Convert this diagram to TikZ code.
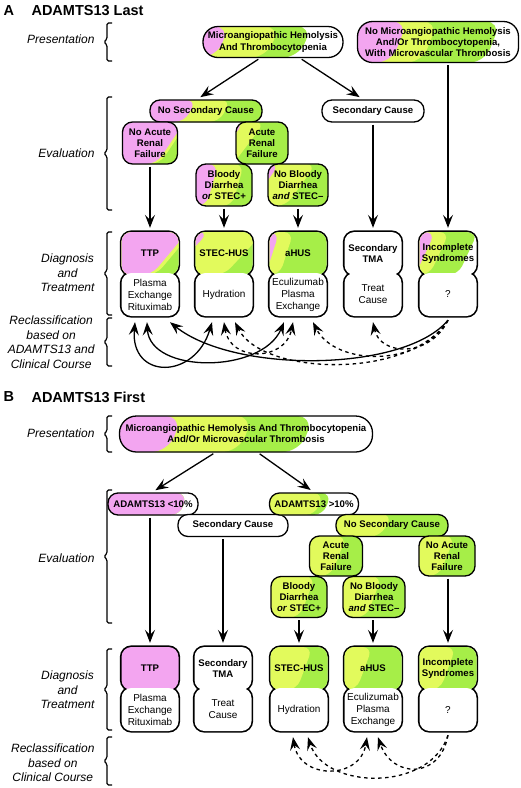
\documentclass[tikz,border=0pt]{standalone}
\usepackage{fontspec}
\setmainfont{Liberation Sans}
\usetikzlibrary{arrows.meta,calc,backgrounds}

\definecolor{tmapink}{RGB}{243,165,240}
\definecolor{tmayel}{RGB}{226,250,92}
\definecolor{tmagrn}{RGB}{166,238,72}

\tikzset{
  bands/.style n args={4}{path picture={
    \path (path picture bounding box.south west) coordinate (bsw)
          (path picture bounding box.north west) coordinate (bnw)
          (path picture bounding box.south east) coordinate (bse)
          (path picture bounding box.north east) coordinate (bne);
    \fill[tmagrn] ($(bsw)+(-80,0)$) -- ($(bsw)!#3!(bse)+(-#4,0)$) -- ($(bnw)!#3!(bne)+(#4,0)$) -- ($(bnw)+(-80,0)$) -- cycle;
    \fill[tmayel] ($(bsw)+(-80,0)$) -- ($(bsw)!#2!(bse)+(-#4,0)$) -- ($(bnw)!#2!(bne)+(#4,0)$) -- ($(bnw)+(-80,0)$) -- cycle;
    \fill[tmapink] ($(bsw)+(-80,0)$) -- ($(bsw)!#1!(bse)+(-#4,0)$) -- ($(bnw)!#1!(bne)+(#4,0)$) -- ($(bnw)+(-80,0)$) -- cycle;
  }},
  evbox/.style={draw, line width=1.3pt, fill=white, rounded corners=10pt, align=center, inner sep=1pt,
    font=\bfseries\fontsize{9.6}{11.2}\selectfont},
  dxtop/.style={fill=white, rounded corners=10pt, align=center, inner sep=1pt, minimum width=57pt,
    minimum height=43pt, font=\bfseries\fontsize{9.6}{11.2}\selectfont},
  dxbot/.style={dxtop, font=\fontsize{10}{12}\selectfont},
  outl/.style={line width=2.8pt, rounded corners=10pt},
  side/.style={anchor=east, align=center, font=\itshape\fontsize{12}{14.5}\selectfont},
  ttl/.style={anchor=west, font=\bfseries\fontsize{14.5}{16}\selectfont},
  brk/.style={line width=1.2pt, rounded corners=1.5pt},
  arr/.style={->, line width=1.3pt, shorten >=4pt, shorten <=2pt},
  recl/.style={line width=1.3pt},
  dsh/.style={recl, dash pattern=on 3.5pt off 3.5pt},
}

\begin{document}
\begin{tikzpicture}[x=1pt, y=-1pt, >={Stealth[length=13pt,width=10pt,inset=5pt]}]
  \useasboundingbox (0,0) rectangle (520,788);

  % panel A
  \node[ttl] (lblA) at (0,11) {A};
  \node[ttl] (ttlA) at (28,11) {ADAMTS13 Last};

  \node[side] (presA) at (98,39) {Presentation};
  \node[side] (evalA) at (98,153) {Evaluation};
  \node[side] (diagA) at (98,273) {Diagnosis\\and\\Treatment};
  \node[side] (reclA) at (98,342) {Reclassification\\based on\\ADAMTS13 and\\Clinical Course};

  \node[evbox, bands={0.14}{0.5}{0.73}{7}, rounded corners=15pt, minimum width=140pt, minimum height=31pt]
    (micA) at (273,42) {Microangiopathic Hemolysis\\And Thrombocytopenia};
  \node[evbox, bands={0.26}{0.45}{0.84}{8}, rounded corners=15pt, minimum width=161pt, minimum height=41pt]
    (noMicA) at (438,42) {No Microangiopathic Hemolysis\\And/Or Thrombocytopenia,\\With Microvascular Thrombosis};

  \node[evbox, bands={0.36}{0.67}{2}{6}, minimum width=112pt, minimum height=22pt] (nscA) at (206,111) {No Secondary Cause};
  \node[evbox, minimum width=102pt, minimum height=22pt] (scA) at (373,111) {Secondary Cause};
  \node[evbox, bands={0.87}{0.93}{2}{14}, minimum width=55pt, minimum height=42pt] (narfA) at (150,143) {No Acute\\Renal\\Failure};
  \node[evbox, bands={-0.15}{0.25}{2}{16}, minimum width=52pt, minimum height=42pt] (arfA) at (262,143) {Acute\\Renal\\Failure};
  \node[evbox, bands={0.29}{0.75}{2}{6}, minimum width=56pt, minimum height=42pt] (bdA) at (224,185) {Bloody\\Diarrhea\\\textit{or} STEC+};
  \node[evbox, bands={-0.06}{0.55}{2}{15}, minimum width=60pt, minimum height=42pt] (nbdA) at (298,185) {No Bloody\\Diarrhea\\\textit{and} STEC--};

  \node[dxtop, bands={0.84}{0.92}{2}{18}] (ttpA) at (150,253.5) {TTP};
  \node[dxbot] (ttpRxA) at (150,294.5) {Plasma\\Exchange\\Rituximab};
  \node[dxtop, bands={-0.12}{0.85}{2}{20}] (stecA) at (224,253.5) {STEC-HUS};
  \node[dxbot] (stecRxA) at (224,294.5) {Hydration};
  \node[dxtop, bands={0.05}{0.3}{2}{7}] (ahusA) at (298,253.5) {aHUS};
  \node[dxbot] (ahusRxA) at (298,294.5) {Eculizumab\\Plasma\\Exchange};
  \node[dxtop] (stmaA) at (373,253.5) {Secondary\\TMA};
  \node[dxbot] (stmaRxA) at (373,294.5) {Treat\\Cause};
  \node[dxtop, bands={0.1}{0.35}{0.85}{10}] (incA) at (448,253.5) {Incomplete\\Syndromes};
  \node[dxbot] (incRxA) at (448,294.5) {?};

  \draw[arr] ([xshift=-13pt]micA.south) -- ([xshift=-9pt]nscA.north);
  \draw[arr] ([xshift=27pt]micA.south) -- ([xshift=-10pt]scA.north);
  \draw[arr] (narfA) -- (ttpA);
  \draw[arr] (bdA) -- (stecA);
  \draw[arr] (nbdA) -- (ahusA);
  \draw[arr] (scA) -- (stmaA);
  \draw[arr] (noMicA.south -| incA.north) -- (incA.north);

  \draw[recl, <->] ($(ttpRxA.south)+(-15,6)$) .. controls (130,380) and (195,380) .. ($(stecRxA.south)+(-12,6)$);
  \draw[recl, <->] ($(ttpRxA.south)+(-3,6)$) .. controls (150,374) and (262,374) .. ($(ahusRxA.south)+(-14,6)$);
  \draw[recl, ->] ($(incRxA.south)+(0,4)$) .. controls (405,372) and (235,374) .. ($(ttpRxA.south)+(20,6)$);
  \draw[dsh, <->] ($(stecRxA.south)+(0,6)$) .. controls (230,362) and (285,362) .. ($(ahusRxA.south)+(-5,6)$);
  \draw[dsh, ->] ($(incRxA.south)+(0,4)$) .. controls (410,380) and (262,376) .. ($(stecRxA.south)+(11,6)$);
  \draw[dsh, ->] ($(incRxA.south)+(0,4)$) .. controls (420,368) and (335,366) .. ($(ahusRxA.south)+(15,6)$);
  \draw[dsh, ->] ($(incRxA.south)+(0,4)$) .. controls (430,358) and (380,356) .. ($(stmaRxA.south)+(0,6)$);

  % panel B
  \node[ttl] (lblB) at (0,397) {B};
  \node[ttl] (ttlB) at (28,397) {ADAMTS13 First};

  \node[side] (presB) at (98,433) {Presentation};
  \node[side] (evalB) at (98,558) {Evaluation};
  \node[side] (diagB) at (98,690) {Diagnosis\\and\\Treatment};
  \node[side] (reclB) at (98,763) {Reclassification\\based on\\Clinical Course};

  \node[evbox, bands={0.22}{0.5}{0.74}{7}, rounded corners=17pt, minimum width=253pt, minimum height=36pt]
    (micB) at (246,434) {Microangiopathic Hemolysis And Thrombocytopenia\\And/Or Microvascular Thrombosis};

  \node[evbox, bands={0.84}{0.84}{0.84}{3}, minimum width=90pt, minimum height=22pt] (lowB) at (153,504) {ADAMTS13 <10\%};
  \node[evbox, minimum width=110pt, minimum height=22pt] (scB) at (233,525.5) {Secondary Cause};
  \node[evbox, bands={-1}{0.56}{0.65}{4}, minimum width=89pt, minimum height=22pt] (highB) at (314,504) {ADAMTS13 >10\%};
  \node[evbox, bands={-1}{0.45}{2}{6}, minimum width=112pt, minimum height=22pt] (nscB) at (392,525.5) {No Secondary Cause};
  \node[evbox, bands={-1}{0.55}{2}{8}, minimum width=53pt, minimum height=40pt] (arfB) at (336,556) {Acute\\Renal\\Failure};
  \node[evbox, bands={-1}{0.5}{2}{8}, minimum width=56pt, minimum height=40pt] (narfB) at (447,556) {No Acute\\Renal\\Failure};
  \node[evbox, bands={-1}{0.65}{2}{8}, minimum width=56pt, minimum height=41pt] (bdB) at (299,597) {Bloody\\Diarrhea\\\textit{or} STEC+};
  \node[evbox, bands={-1}{0.5}{2}{8}, minimum width=62pt, minimum height=41pt] (nbdB) at (374,597) {No Bloody\\Diarrhea\\\textit{and} STEC--};

  \node[dxtop, fill=tmapink] (ttpB) at (150,668.5) {TTP};
  \node[dxbot] (ttpRxB) at (150,709.5) {Plasma\\Exchange\\Rituximab};
  \node[dxtop] (stmaB) at (223,668.5) {Secondary\\TMA};
  \node[dxbot] (stmaRxB) at (223,709.5) {Treat\\Cause};
  \node[dxtop, bands={-1}{0.6}{2}{8}] (stecB) at (299,668.5) {STEC-HUS};
  \node[dxbot] (stecRxB) at (299,709.5) {Hydration};
  \node[dxtop, bands={-1}{0.35}{2}{8}] (ahusB) at (373,668.5) {aHUS};
  \node[dxbot] (ahusRxB) at (373,709.5) {Eculizumab\\Plasma\\Exchange};
  \node[dxtop, bands={-1}{0.5}{2}{8}] (incB) at (448,668.5) {Incomplete\\Syndromes};
  \node[dxbot] (incRxB) at (448,709.5) {?};

  \draw[arr] ([xshift=-31pt]micB.south) -- ([xshift=-1pt]lowB.north);
  \draw[arr] ([xshift=12pt]micB.south) -- (highB.north);
  \draw[arr] (lowB.south -| ttpB.north) -- (ttpB.north);
  \draw[arr] (scB.south -| stmaB.north) -- (stmaB.north);
  \draw[arr] (bdB) -- (stecB);
  \draw[arr] (nbdB.south -| ahusB.north) -- (ahusB.north);
  \draw[arr] (narfB.south -| incB.north) -- (incB.north);

  \draw[dsh, <->] ($(stecRxB.south)+(-6,6)$) .. controls (300,780) and (360,780) .. ($(ahusRxB.south)+(-6,6)$);
  \draw[dsh, ->] ($(incRxB.south)+(0,4)$) .. controls (430,792) and (325,790) .. ($(stecRxB.south)+(9,6)$);
  \draw[dsh, ->] ($(incRxB.south)+(0,4)$) .. controls (440,780) and (392,778) .. ($(ahusRxB.south)+(5,6)$);

  % side braces
  \foreach \t/\b in {23/61, 97/210, 232/315, 318/366, 416/452, 490/623, 649/730, 737/785}
    \draw[brk] (112,\t) -- (107,\t) -- (107,{(\t+\b)/2-3}) -- (104,{(\t+\b)/2}) -- (107,{(\t+\b)/2+3}) -- (107,\b) -- (112,\b);

  % joined outlines of the diagnosis boxes
  \begin{pgfonlayer}{background}
    \foreach \n in {ttpA,ttpRxA,stecA,stecRxA,ahusA,ahusRxA,stmaA,stmaRxA,incA,incRxA,
                    ttpB,ttpRxB,stmaB,stmaRxB,stecB,stecRxB,ahusB,ahusRxB,incB,incRxB}
      \draw[outl] (\n.south west) rectangle (\n.north east);
  \end{pgfonlayer}
\end{tikzpicture}
\end{document}
